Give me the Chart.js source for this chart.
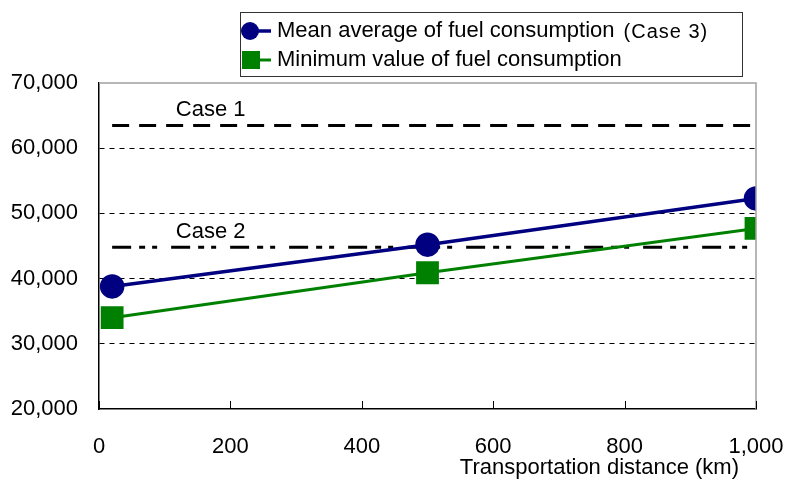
<!DOCTYPE html>
<html>
<head>
<meta charset="utf-8">
<script src="https://cdn.jsdelivr.net/npm/chart.js@4"></script>
<style>
  html, body { margin: 0; padding: 0; background: #fff; }
  #wrap { width: 785px; height: 481px; }
</style>
</head>
<body>
<div id="wrap"><canvas id="myChart" width="785" height="481"></canvas></div>
<script>
// data
var distances = [20, 500, 1000];
var meanFuel = [38800, 45200, 52300];
var minFuel = [34000, 40900, 47700];
var caseNames = ["Case 1", "Case 2"];
var caseValues = [63500, 44800];
var caseLabelAt = 170;   // km, where the case names sit
var xTicks = [0, 200, 400, 600, 800, 1000];
var yTicks = [20000, 30000, 40000, 50000, 60000, 70000];
var xTitle = "Transportation distance (km)";

function pts(xs, ys) {
  return xs.map(function (x, i) { return { x: x, y: ys[i] }; });
}
function fmt(v) { return Number(v).toLocaleString("en-US"); }

Chart.defaults.font.family = "'Liberation Sans', Arial, sans-serif";
Chart.defaults.color = "#000";

var extras = {
  id: "extras",
  afterDraw: function (chart) {
    var ctx = chart.ctx, a = chart.chartArea;
    var xs = chart.scales.x, ys = chart.scales.y;
    ctx.save();

    // frame top / right in grey
    ctx.strokeStyle = "#a0a0a0";
    ctx.lineWidth = 1.5;
    ctx.beginPath();
    ctx.moveTo(a.left, a.top);
    ctx.lineTo(a.right, a.top);
    ctx.lineTo(a.right, a.bottom);
    ctx.stroke();

    // inward ticks on the x axis
    ctx.strokeStyle = "#000";
    ctx.lineWidth = 1;
    xTicks.forEach(function (t) {
      var px = Math.round(xs.getPixelForValue(t)) + 0.5;
      ctx.beginPath();
      ctx.moveTo(px, a.bottom);
      ctx.lineTo(px, a.bottom - 8);
      ctx.stroke();
    });

    // case names above their lines
    ctx.fillStyle = "#000";
    ctx.font = "22px 'Liberation Sans', Arial, sans-serif";
    ctx.textAlign = "center";
    ctx.textBaseline = "middle";
    caseNames.forEach(function (n, i) {
      ctx.fillText(n, xs.getPixelForValue(caseLabelAt), ys.getPixelForValue(caseValues[i]) - 15);
    });

    // axis title
    ctx.textAlign = "right";
    ctx.fillText(xTitle, a.right - 17, 468);

    // legend box
    ctx.strokeStyle = "#333";
    ctx.lineWidth = 1;
    ctx.strokeRect(240.5, 12.5, 502, 64);
    ctx.textAlign = "left";
    [0, 1].forEach(function (i) {
      var ds = chart.data.datasets[i];
      var y = 31 + i * 29;
      ctx.strokeStyle = ds.borderColor;
      ctx.lineWidth = ds.borderWidth;
      ctx.beginPath();
      ctx.moveTo(246, y);
      ctx.lineTo(271, y);
      ctx.stroke();
      ctx.fillStyle = ds.backgroundColor;
      if (ds.pointStyle === "rect") {
        ctx.fillRect(242, y - 9, 18, 18);
      } else {
        ctx.beginPath();
        ctx.arc(250, y, 9, 0, Math.PI * 2);
        ctx.fill();
      }
      ctx.fillStyle = "#000";
      var cut = ds.label.indexOf(" (");
      var main = cut < 0 ? ds.label : ds.label.slice(0, cut);
      ctx.font = "22px 'Liberation Sans', Arial, sans-serif";
      ctx.fillText(main, 277, y);
      if (cut >= 0) {
        var w = ctx.measureText(main).width;
        ctx.font = "20px 'Liberation Sans', Arial, sans-serif";
        ctx.letterSpacing = "1px";
        ctx.fillText(ds.label.slice(cut + 1), 277 + w + 9, y + 1);
        ctx.letterSpacing = "0px";
      }
    });
    ctx.restore();
  }
};

new Chart("myChart", {
  type: "line",
  data: {
    datasets: [{
      label: "Mean average of fuel consumption (Case 3)",
      data: pts(distances, meanFuel),
      borderColor: "#000080",
      backgroundColor: "#000080",
      borderWidth: 3.5,
      pointStyle: "circle",
      pointRadius: 10.5,
      pointHoverRadius: 10.5
    }, {
      label: "Minimum value of fuel consumption",
      data: pts(distances, minFuel),
      borderColor: "#008000",
      backgroundColor: "#008000",
      borderWidth: 3,
      pointStyle: "rect",
      pointRadius: 14,
      pointHoverRadius: 14
    }, {
      label: caseNames[0],
      data: pts([distances[0], distances[2]], [caseValues[0], caseValues[0]]),
      borderColor: "#000",
      borderWidth: 3,
      borderDash: [17, 10],
      pointRadius: 0
    }, {
      label: caseNames[1],
      data: pts([distances[0], distances[2]], [caseValues[1], caseValues[1]]),
      borderColor: "#000",
      borderWidth: 3,
      borderDash: [19, 8, 6, 7, 5, 14],
      pointRadius: 0
    }]
  },
  options: {
    responsive: false,
    animation: false,
    layout: { padding: { top: 83, right: 29, left: 0, bottom: 0 } },
    plugins: { legend: { display: false }, tooltip: { enabled: false } },
    scales: {
      x: {
        type: "linear",
        min: 0,
        max: 1000,
        afterFit: function (s) { s.height = 72; s.paddingRight = 0; s.paddingLeft = 0; },
        afterBuildTicks: function (s) { s.ticks = xTicks.map(function (v) { return { value: v }; }); },
        ticks: { font: { size: 22 }, padding: 25, callback: fmt, maxRotation: 0 },
        grid: { drawOnChartArea: false, drawTicks: false },
        border: { color: "#000", width: 1.5 }
      },
      y: {
        min: 20000,
        max: 70000,
        afterFit: function (s) { s.width = 99; s.paddingTop = 0; s.paddingBottom = 0; },
        afterBuildTicks: function (s) { s.ticks = yTicks.map(function (v) { return { value: v }; }); },
        ticks: { font: { size: 22 }, padding: 21, callback: fmt },
        grid: {
          drawTicks: false,
          lineWidth: 1,
          color: function (c) {
            var v = c.tick && c.tick.value;
            return (v === 20000 || v === 70000) ? "rgba(0,0,0,0)" : "#000";
          }
        },
        border: { color: "#000", width: 1.5, dash: [5, 5] }
      }
    }
  },
  plugins: [extras]
});
</script>
</body>
</html>
